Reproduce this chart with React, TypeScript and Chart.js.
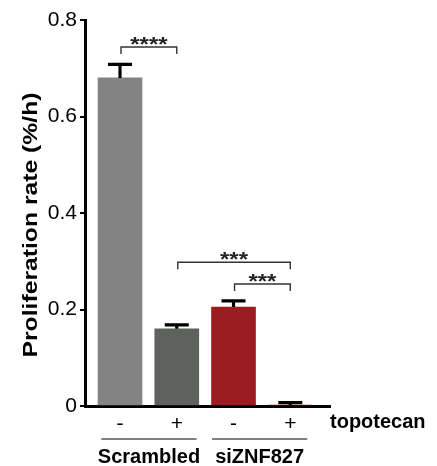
import React, { useEffect, useRef } from 'react';
import { Chart, registerables } from 'chart.js';

Chart.register(...registerables);

// ---- data ----
const positions = [0, 1, 2, 3];
const treatmentSigns = ['-', '+', '-', '+'];
const proliferationRate = [0.68, 0.16, 0.205, 0.002];
const errorUpper = [0.708, 0.168, 0.218, 0.007];
const barColors = ['#838383', '#5f615f', '#9c1c21', '#9c1c21'];
const yTickValues = [0, 0.2, 0.4, 0.6, 0.8];
const groupNames = ['Scrambled', 'siZNF827'];
const groupStart = [-0.33, 1.62];
const groupEnd = [1.35, 3.3];
const bracketFrom = [0, 1, 2];
const bracketTo = [1, 3, 3];
const bracketLevel = [0.744, 0.298, 0.253];
const bracketStars = ['****', '***', '***'];
const treatmentName = 'topotecan';
const yTitle = 'Proliferation rate (%/h)';

const FONT = '"Liberation Sans", Arial, Helvetica, sans-serif';

function scaledText(
  ctx: CanvasRenderingContext2D,
  text: string,
  x: number,
  y: number,
  font: string,
  align: CanvasTextAlign,
  targetWidth?: number
) {
  ctx.save();
  ctx.font = font;
  ctx.textAlign = align;
  ctx.textBaseline = 'alphabetic';
  ctx.translate(x, y);
  if (targetWidth) {
    const w = ctx.measureText(text).width;
    ctx.scale(targetWidth / w, 1);
  }
  ctx.fillText(text, 0, 0);
  ctx.restore();
}

const annotations = {
  id: 'annotations',
  afterDatasetsDraw(chart: any) {
    const ctx: CanvasRenderingContext2D = chart.ctx;
    const xs = chart.scales.x;
    const ys = chart.scales.y;
    const meta = chart.getDatasetMeta(0);

    // error bars (upper only)
    ctx.save();
    ctx.strokeStyle = '#000';
    ctx.lineWidth = 3.2;
    ctx.lineCap = 'butt';
    meta.data.forEach((el: any, i: number) => {
      const top = ys.getPixelForValue(errorUpper[i]);
      ctx.beginPath();
      ctx.moveTo(el.x, el.y);
      ctx.lineTo(el.x, top);
      ctx.moveTo(el.x - 12, top);
      ctx.lineTo(el.x + 12, top);
      ctx.stroke();
    });
    ctx.restore();

    // significance brackets
    ctx.save();
    ctx.strokeStyle = '#333';
    ctx.fillStyle = '#222';
    ctx.lineWidth = 1.4;
    bracketFrom.forEach((from, i) => {
      const x1 = xs.getPixelForValue(from) + 1;
      const x2 = xs.getPixelForValue(bracketTo[i]);
      const y = ys.getPixelForValue(bracketLevel[i]);
      ctx.beginPath();
      ctx.moveTo(x1, y + 7);
      ctx.lineTo(x1, y);
      ctx.lineTo(x2, y);
      ctx.lineTo(x2, y + 7);
      ctx.stroke();
      scaledText(ctx, bracketStars[i], (x1 + x2) / 2, y + 4, 'bold 21px ' + FONT, 'center',
        bracketStars[i].length * 9.3);
    });
    ctx.restore();
  },
  afterDraw(chart: any) {
    const ctx: CanvasRenderingContext2D = chart.ctx;
    const xs = chart.scales.x;
    const area = chart.chartArea;
    ctx.save();
    ctx.fillStyle = '#000';

    // y title
    ctx.save();
    ctx.translate(37, (area.top + area.bottom) / 2 + 12);
    ctx.rotate(-Math.PI / 2);
    scaledText(ctx, yTitle, 0, 0, 'bold 21px ' + FONT, 'center', 265);
    ctx.restore();

    // treatment name
    scaledText(ctx, treatmentName, area.right, area.bottom + 22, 'bold 20px ' + FONT, 'left');

    // group lines and names
    groupNames.forEach((name, i) => {
      const a = xs.getPixelForValue(groupStart[i]);
      const b = xs.getPixelForValue(groupEnd[i]);
      ctx.strokeStyle = '#555';
      ctx.lineWidth = 1.5;
      ctx.beginPath();
      ctx.moveTo(a, area.bottom + 33);
      ctx.lineTo(b, area.bottom + 33);
      ctx.stroke();
      scaledText(ctx, name, (a + b) / 2, area.bottom + 57, 'bold 20px ' + FONT, 'center');
    });
    ctx.restore();
  },
};

export default function App() {
  const ref = useRef<HTMLCanvasElement | null>(null);

  useEffect(() => {
    if (!ref.current) return;
    const chart = new Chart(ref.current, {
      type: 'bar',
      data: {
        datasets: [
          {
            data: positions.map((p, i) => ({ x: p, y: proliferationRate[i] })),
            backgroundColor: barColors,
            borderWidth: 0,
            barThickness: 44,
          },
        ],
      },
      options: {
        responsive: false,
        animation: false,
        events: [],
        layout: { padding: { top: 20, right: 107, left: 0, bottom: 0 } },
        plugins: {
          legend: { display: false },
          tooltip: { enabled: false },
        },
        scales: {
          x: {
            type: 'linear',
            min: -0.617,
            max: 3.7,
            offset: false,
            afterBuildTicks: (s: any) => {
              s.ticks = positions.map((v) => ({ value: v }));
            },
            afterFit: (s: any) => {
              s.height = 60;
            },
            grid: { display: true, drawOnChartArea: false, drawTicks: false, color: 'rgba(0,0,0,0)' },
            border: { display: true, color: '#000', width: 3 },
            ticks: {
              autoSkip: false,
              maxRotation: 0,
              padding: 6,
              color: '#000',
              font: { family: FONT, size: 21 },
              callback: (_v: any, i: number) => treatmentSigns[i],
            },
          },
          y: {
            type: 'linear',
            min: 0,
            max: 0.8,
            afterBuildTicks: (s: any) => {
              s.ticks = yTickValues.map((v) => ({ value: v }));
            },
            afterFit: (s: any) => {
              s.width = 85;
            },
            grid: { display: true, drawOnChartArea: false, drawTicks: true, tickLength: 5, color: '#000', lineWidth: 2 },
            border: { display: true, color: '#000', width: 3 },
            ticks: {
              padding: 3,
              color: '#000',
              font: { family: FONT, size: 21 },
              callback: (v: any) => (v === 0 ? '0' : Number(v).toFixed(1)),
            },
          },
        },
      },
      plugins: [annotations],
    });
    return () => chart.destroy();
  }, []);

  return (
    <div style={{ position: 'fixed', left: 0, top: 0, width: 437, height: 466, background: '#fff' }}>
      <canvas ref={ref} width={437} height={466} style={{ display: 'block' }} />
    </div>
  );
}
